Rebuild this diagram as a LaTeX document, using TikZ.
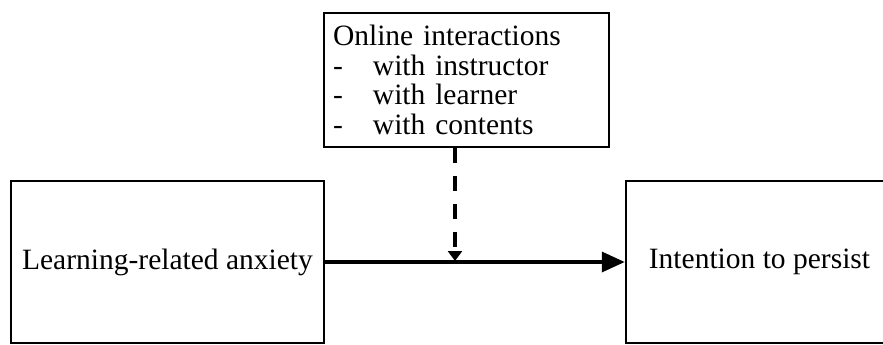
\documentclass[tikz,border=0pt]{standalone}
\usepackage{fontspec}
\setmainfont{Liberation Serif}
\usetikzlibrary{arrows.meta}
\begin{document}
\begin{tikzpicture}[x=1pt,y=-1pt,
  box/.style={draw, line width=2.5pt, rectangle, inner sep=0pt,
    font=\fontsize{29.5}{29.5}\selectfont},
  mainarrow/.style={line width=3.5pt, -{Triangle[length=23pt,width=20pt]}},
  modarrow/.style={line width=4.5pt, dash pattern=on 15pt off 13pt,
    -{Triangle[length=10pt,width=14pt]}}]
\useasboundingbox (0,0) rectangle (883,345);
\clip (0,0) rectangle (883,345);
\node[box, minimum width=313pt, minimum height=162pt] (anx) at (167.5,262) {Learning-related anxiety};
\node[box, minimum width=267pt, minimum height=162pt] (int) at (759.5,262) {Intention to persist};
\node[box, minimum width=285pt, minimum height=134pt, text width=267pt, align=left] (onl) at (466.5,80)
  {Online interactions\\
   \makebox[40pt][l]{-}with instructor\\
   \makebox[40pt][l]{-}with learner\\
   \makebox[40pt][l]{-}with contents};
\coordinate (m) at (455,261);
\draw[mainarrow] (anx.east) -- (int.west);
\draw[modarrow] (onl.south -| m) -- (m);
\end{tikzpicture}
\end{document}
